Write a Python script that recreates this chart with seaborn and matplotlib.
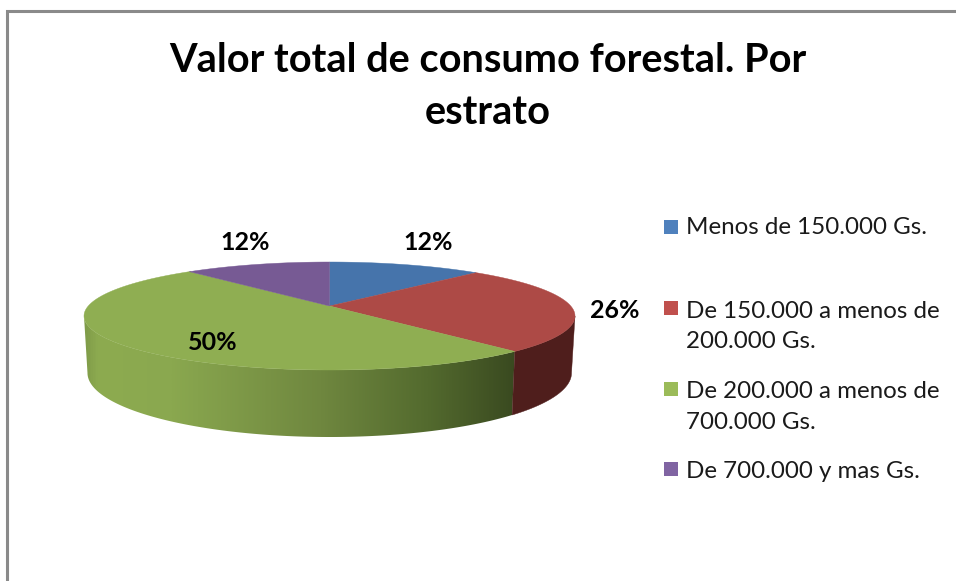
import numpy as np
import seaborn as sns
import matplotlib.pyplot as plt
from matplotlib.colors import LinearSegmentedColormap
from matplotlib.patches import Polygon

title = 'Valor total de consumo forestal. Por\nestrato'
shares = [12.1, 26.4, 50.0, 11.5]
pct_labels = ['12%', '26%', '50%', '12%']
legend_labels = ['Menos de 150.000 Gs.',
                 'De 150.000 a menos de\n200.000 Gs.',
                 'De 200.000 a menos de\n700.000 Gs.',
                 'De 700.000 y mas Gs.']

top_colors = ['#4674ab', '#ad4a46', '#8fae52', '#775a94']
legend_colors = ['#4f81bd', '#c0504d', '#9bbb59', '#8064a2']

sns.set_theme(style='white')
plt.rcParams['font.family'] = ['Lato', 'DejaVu Sans']

# pixel geometry of the tilted pie
cx, cy = 329.5, 316
rx, ry = 245.5, 54
apex = 10
k = apex / ry
a = rx * np.sqrt(1 - k ** 2)
bot_cy, bot_rx, bot_ry = 373, 242, 64


def project(theta):
    # clockwise angle from the top of the pie -> picture position, far side is squeezed
    X, Y = np.sin(theta), np.cos(theta)
    w = 1 + k * Y
    return cx + a * X / w, cy - (ry * Y + apex) / w


def wall(phi):
    # outline of the side wall between two angles on the ellipse
    x_top = cx + rx * np.cos(phi)
    y_top = cy - ry * np.sin(phi)
    x_bot = cx + bot_rx * np.cos(phi[::-1])
    y_bot = bot_cy - bot_ry * np.sin(phi[::-1])
    return np.c_[np.r_[x_top, x_bot], np.r_[y_top, y_bot]]


fig = plt.figure(figsize=(9.56, 5.81), dpi=100)
ax = fig.add_axes([0, 0, 1, 1])

edges = np.cumsum([0] + shares) / sum(shares) * 2 * np.pi
x_red_green = project(edges[2])[0]
phi_red_green = 2 * np.pi - np.arccos((x_red_green - cx) / rx)

# side wall, green part has a gradient left to right
green_side = LinearSegmentedColormap.from_list(
    'green_side',
    [(0, '#7f9c49'), (0.03, '#8dab50'), (0.2, '#8aa84f'), (0.55, '#6f873f'),
     (0.8, '#536a2e'), (1, '#3a4a20')])
grad = np.linspace(0, 1, 430).reshape(1, -1)
img = ax.imshow(grad, cmap=green_side, aspect='auto', zorder=1,
                extent=(cx - rx, x_red_green, 445, 300), interpolation='bilinear')
clip = Polygon(wall(np.linspace(np.pi, phi_red_green, 300)), transform=ax.transData,
               closed=True, fc='none', ec='none')
ax.add_patch(clip)
img.set_clip_path(clip)
ax.fill(*wall(np.linspace(phi_red_green, 2 * np.pi, 100)).T, color='#4f1e1c', lw=0.3, zorder=1)

# top face
for i, c in enumerate(top_colors):
    th = np.linspace(edges[i], edges[i + 1], 120)
    xs, ys = project(th)
    ax.fill(np.r_[cx, xs], np.r_[cy - apex, ys], color=c, lw=0.3, zorder=2)

# percent labels
pct_pos = [(428, 243), (615, 310), (213, 342), (245, 243)]
for s, (x, y) in zip(pct_labels, pct_pos):
    ax.text(x, y, s, ha='center', va='center', fontsize=18, fontweight='bold',
            color='black', zorder=3)

ax.text(488, 87, title, ha='center', va='center', fontsize=28.6, fontweight='bold',
        color='black', linespacing=1.5)

# legend
square_y = [226.5, 307.5, 388.5, 469]
text_y = [227, 326.5, 407, 471]
for c, lab, sy, ty in zip(legend_colors, legend_labels, square_y, text_y):
    ax.scatter([671.5], [sy], marker='s', s=108, color=c, linewidths=0, zorder=3)
    ax.text(686, ty, lab, ha='left', va='center', fontsize=17.4, color='#1a1a1a',
            linespacing=1.55)

# chart frame, only top and left are inside the crop
ax.plot([7, 7, 956], [581, 11, 11], color='#8a8a8a', lw=2.2, solid_joinstyle='miter')

ax.set_xlim(0, 956)
ax.set_ylim(581, 0)
ax.axis('off')

plt.savefig('out.png', dpi=100)
